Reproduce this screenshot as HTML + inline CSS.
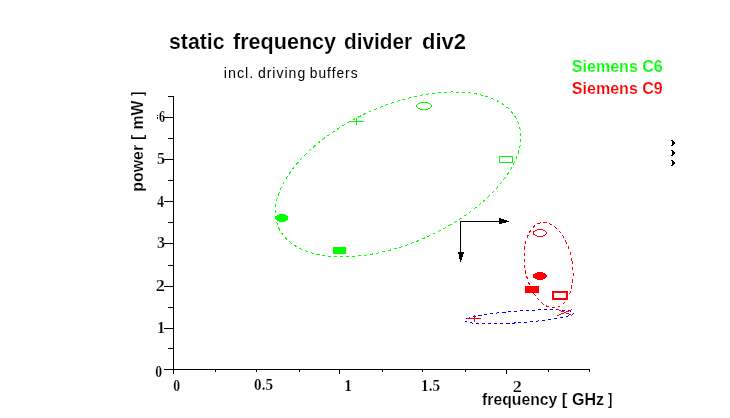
<!DOCTYPE html>
<html><head><meta charset="utf-8">
<style>
html,body{margin:0;padding:0;background:#fff;width:730px;height:418px;overflow:hidden}
svg{display:block;will-change:transform}
</style></head>
<body>
<svg width="730" height="418" viewBox="0 0 730 418">
<rect width="730" height="418" fill="#fff"/>
<text transform="matrix(0.9643 0 0 0.9937 169.036 49.000)" font-family="Liberation Sans" font-weight="bold" font-size="22"  fill="#000" stroke="#fff" stroke-width="0.18">static</text>
<text transform="matrix(0.9810 0 0 0.9905 233.000 48.648)" font-family="Liberation Sans" font-weight="bold" font-size="22"  fill="#000" stroke="#fff" stroke-width="0.18">frequency</text>
<text transform="matrix(0.9437 0 0 1.0000 344.056 49.000)" font-family="Liberation Sans" font-weight="bold" font-size="22"  fill="#000" stroke="#fff" stroke-width="0.18">divider</text>
<text transform="matrix(1.0000 0 0 1.0125 422.000 49.000)" font-family="Liberation Sans" font-weight="bold" font-size="22"  fill="#000" stroke="#fff" stroke-width="0.18">div2</text>
<text transform="matrix(1.0259 0 0 1.0727 223.674 77.800)" font-family="Liberation Sans" font-weight="normal" font-size="14" letter-spacing="1" fill="#000">incl.</text>
<text transform="matrix(1.0022 0 0 1.0714 257.898 77.786)" font-family="Liberation Sans" font-weight="normal" font-size="14" letter-spacing="1" fill="#000">driving</text>
<text transform="matrix(0.9830 0 0 1.0727 309.817 77.800)" font-family="Liberation Sans" font-weight="normal" font-size="14" letter-spacing="1" fill="#000">buffers</text>
<text transform="matrix(1.0034 0 0 1.0167 571.797 72.000)" font-family="Liberation Sans" font-weight="bold" font-size="16"  fill="#00ff00" stroke="#fff" stroke-width="0.18">Siemens C6</text>
<text transform="matrix(1.0034 0 0 1.0167 571.797 94.100)" font-family="Liberation Sans" font-weight="bold" font-size="16"  fill="#ff0000" stroke="#fff" stroke-width="0.18">Siemens C9</text>
<text transform="matrix(0.9855 0 0 1.0133 482.000 405.260)" font-family="Liberation Sans" font-weight="bold" font-size="16"  fill="#000" stroke="#fff" stroke-width="0.18">frequency</text>
<text transform="matrix(1.0500 0 0 0.9867 561.850 404.940)" font-family="Liberation Sans" font-weight="bold" font-size="16"  fill="#000" stroke="#fff" stroke-width="0.18">[</text>
<text transform="matrix(1.0032 0 0 1.0000 571.997 404.800)" font-family="Liberation Sans" font-weight="bold" font-size="16"  fill="#000" stroke="#fff" stroke-width="0.18">GHz</text>
<text transform="matrix(0.8200 0 0 0.9867 607.900 404.940)" font-family="Liberation Sans" font-weight="bold" font-size="16"  fill="#000" stroke="#fff" stroke-width="0.18">]</text>
<text transform="matrix(0 -0.9957 1.0083 0 142.975 191.796)" font-family="Liberation Sans" font-weight="bold" font-size="16" stroke="#fff" stroke-width="0.18">power</text>
<text transform="matrix(0 -0.9750 1.0000 0 143.000 139.875)" font-family="Liberation Sans" font-weight="bold" font-size="16" stroke="#fff" stroke-width="0.18">[</text>
<text transform="matrix(0 -0.9893 1.0083 0 143.100 129.589)" font-family="Liberation Sans" font-weight="bold" font-size="16" stroke="#fff" stroke-width="0.18">mW</text>
<text transform="matrix(0 -0.8000 1.0000 0 143.000 96.000)" font-family="Liberation Sans" font-weight="bold" font-size="16" stroke="#fff" stroke-width="0.18">]</text>
<text transform="matrix(0.8571 0 0 1.0000 155.143 377.000)" font-family="Liberation Serif" font-weight="bold" font-size="16"  fill="#000" stroke="#fff" stroke-width="0.18">0</text>
<text transform="matrix(1.0000 0 0 1.0000 157.000 333.000)" font-family="Liberation Serif" font-weight="bold" font-size="16"  fill="#000" stroke="#fff" stroke-width="0.18">1</text>
<text transform="matrix(1.1429 0 0 1.0000 155.857 291.000)" font-family="Liberation Serif" font-weight="bold" font-size="16"  fill="#000" stroke="#fff" stroke-width="0.18">2</text>
<text transform="matrix(1.0000 0 0 1.0000 157.000 248.000)" font-family="Liberation Serif" font-weight="bold" font-size="16"  fill="#000" stroke="#fff" stroke-width="0.18">3</text>
<text transform="matrix(0.8750 0 0 1.0000 157.000 207.000)" font-family="Liberation Serif" font-weight="bold" font-size="16"  fill="#000" stroke="#fff" stroke-width="0.18">4</text>
<text transform="matrix(1.0000 0 0 1.0000 157.000 164.000)" font-family="Liberation Serif" font-weight="bold" font-size="16"  fill="#000" stroke="#fff" stroke-width="0.18">5</text>
<text transform="matrix(0.7500 0 0 1.0000 159.000 122.000)" font-family="Liberation Serif" font-weight="bold" font-size="16"  fill="#000" stroke="#fff" stroke-width="0.18">6</text>
<text transform="matrix(0.8571 0 0 1.0000 173.143 391.000)" font-family="Liberation Serif" font-weight="bold" font-size="16"  fill="#000" stroke="#fff" stroke-width="0.18">0</text>
<text transform="matrix(0.9474 0 0 1.0000 254.053 390.000)" font-family="Liberation Serif" font-weight="bold" font-size="16"  fill="#000" stroke="#fff" stroke-width="0.18">0.5</text>
<text transform="matrix(1.0000 0 0 1.0000 344.000 391.000)" font-family="Liberation Serif" font-weight="bold" font-size="16"  fill="#000" stroke="#fff" stroke-width="0.18">1</text>
<text transform="matrix(0.9474 0 0 1.0000 421.053 391.000)" font-family="Liberation Serif" font-weight="bold" font-size="16"  fill="#000" stroke="#fff" stroke-width="0.18">1.5</text>
<text transform="matrix(1.1429 0 0 1.0000 512.857 392.000)" font-family="Liberation Serif" font-weight="bold" font-size="16"  fill="#000" stroke="#fff" stroke-width="0.18">2</text>
<path d="M173.5,96 V374 M164,369.5 H590 M164,328.5 H173 M164,286.5 H173 M164,243.5 H173 M164,201.5 H173 M164,159.5 H173 M164,117.5 H173 M168,348.5 H173 M168,307.5 H173 M168,265.5 H173 M168,222.5 H173 M168,180.5 H173 M168,138.5 H173 M168,96.5 H173 M339.5,370 V374 M506.5,370 V374 M215.5,370 V372 M256.5,370 V372 M299.5,370 V372 M382.5,370 V372 M422.5,370 V372 M465.5,370 V372 M548.5,370 V372 M589.5,370 V372" stroke="#000" stroke-width="1" fill="none" shape-rendering="crispEdges"/>
<g fill="none" stroke-width="1" shape-rendering="crispEdges">
<ellipse cx="398.1" cy="174.4" rx="130.8" ry="68.9" transform="rotate(-24 398.1 174.4)" stroke="#00ff00" stroke-dasharray="3.2 2.8"/>
<ellipse cx="548.6" cy="265.1" rx="23.8" ry="43" transform="rotate(-9.3 548.6 265.1)" stroke="#ff0000" stroke-dasharray="3.2 2.8"/>
<ellipse cx="519.4" cy="316.8" rx="54.7" ry="5.87" transform="rotate(-4.04 519.4 316.8)" stroke="#0000ff" stroke-dasharray="3.2 2.8"/>
</g>
<g stroke="#00ff00" stroke-width="1" fill="none" shape-rendering="crispEdges">
<path d="M350,121.5 H364 M356.5,118 V125"/>
<ellipse cx="424" cy="106" rx="7.5" ry="3.5"/>
<rect x="499.5" y="156.5" width="13" height="6"/>
</g>
<g fill="#00ff00" shape-rendering="crispEdges">
<ellipse cx="282" cy="218" rx="6" ry="4"/>
<rect x="333" y="247" width="13" height="7"/>
</g>
<g stroke="#ff0000" stroke-width="1" fill="none" shape-rendering="crispEdges">
<ellipse cx="540" cy="233" rx="6.5" ry="3.5"/>
<rect x="553" y="292" width="14" height="7" stroke-width="2"/>
<path d="M557.5,309.5 L572.5,315.5 M557.5,315.5 L572.5,309.5"/>
<path d="M467,318.5 H481 M474.5,315 V322"/>
</g>
<g fill="#ff0000" shape-rendering="crispEdges">
<ellipse cx="540" cy="276" rx="7" ry="4"/>
<rect x="525" y="286" width="14" height="7"/>
</g>
<g stroke="#000" stroke-width="1" fill="none" shape-rendering="crispEdges">
<path d="M460,221.5 H509 M460.5,221 V262"/>
</g>
<g fill="#000" shape-rendering="crispEdges">
<path d="M499,218h2v1h-2z M499,219h5v1h-5z M499,220h8v1h-8z M499,221h9v1h-9z M499,222h7v1h-7z M499,223h3v1h-3z"/>
<path d="M458,252h6v2h-6z M459,254h4v3h-4z M459,257h3v2h-3z M460,259h2v1h-2z M460,260h1v2h-1z"/>
</g>
<g fill="#000" shape-rendering="crispEdges">
<path id="chev" d="M671,140h2v1h-2z M672,141h2v1h-2z M672,142h3v2h-3z M672,144h2v1h-2z M671,145h2v1h-2z"/>
<path d="M671,150h2v1h-2z M672,151h2v1h-2z M672,152h3v2h-3z M672,154h2v1h-2z M671,155h2v1h-2z"/>
<path d="M671,160h2v1h-2z M672,161h2v1h-2z M672,162h3v2h-3z M672,164h2v1h-2z M671,165h2v1h-2z"/>
</g>
<path d="M157,115h1v1h-1z M157,117h1v2h-1z" fill="#000" shape-rendering="crispEdges"/>

</svg>
</body></html>
